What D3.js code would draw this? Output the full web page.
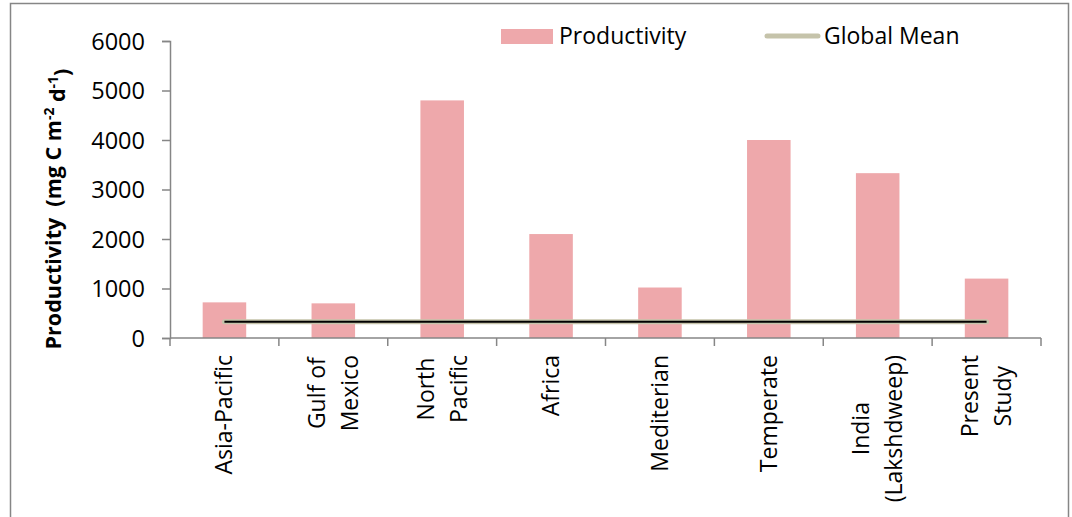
<!DOCTYPE html>
<html>
<head>
<meta charset="utf-8">
<script src="https://cdn.jsdelivr.net/npm/d3@7"></script>
<style>
  html, body { margin: 0; padding: 0; background: #fff; }
  svg { display: block; font-family: "Open Sans", sans-serif; }
</style>
</head>
<body>
<svg id="chart" width="1072" height="517"></svg>
<script>
// Regions compared (each label may wrap onto several lines)
const categories = [
  ["Asia-Pacific"],
  ["Gulf of", "Mexico"],
  ["North", "Pacific"],
  ["Africa"],
  ["Mediterian"],
  ["Temperate"],
  ["India", "(Lakshdweep)"],
  ["Present", "Study"]
];
// Productivity, mg C m-2 d-1
const productivity = [720, 700, 4800, 2100, 1020, 4000, 3330, 1200];
// Global mean productivity, same value across all regions
const globalMean = [330, 330, 330, 330, 330, 330, 330, 330];
const yTicks = [0, 1000, 2000, 3000, 4000, 5000, 6000];

const W = 1072, H = 517;
const margin = { left: 170, right: 31, top: 41, bottom: 179 };
const plotW = W - margin.left - margin.right;
const plotH = H - margin.top - margin.bottom;

const svg = d3.select("#chart");
const axisColor = "#868686";
const barColor = "#EEA8AB";
const meanColor = "#C5C3AA";
const fontSize = 23;

// outer chart border
svg.append("rect")
  .attr("x", 10.5).attr("y", 3.5)
  .attr("width", 1058).attr("height", 530)
  .attr("fill", "none").attr("stroke", axisColor).attr("stroke-width", 1.5);

const g = svg.append("g").attr("transform", `translate(${margin.left},${margin.top})`);

const idx = d3.range(categories.length);
const x = d3.scaleBand().domain(idx).range([0, plotW]).paddingInner(0.6).paddingOuter(0.3);
const xPos = d3.scaleBand().domain(idx).range([0, plotW]);
const y = d3.scaleLinear().domain([0, 6000]).range([plotH, 0]);

// bars
g.selectAll("rect.bar").data(productivity).enter().append("rect")
  .attr("class", "bar")
  .attr("x", (d, i) => x(i))
  .attr("width", x.bandwidth())
  .attr("y", d => y(d))
  .attr("height", d => y(0) - y(d))
  .attr("fill", barColor);

// y axis
const yAxis = g.append("g")
  .call(d3.axisLeft(y).tickValues(yTicks).tickSize(8).tickPadding(17).tickFormat(d3.format("d")));
yAxis.select(".domain").attr("stroke", axisColor).attr("stroke-width", 1.5);
yAxis.selectAll(".tick line").attr("stroke", axisColor).attr("stroke-width", 1.5);
yAxis.selectAll(".tick text").attr("fill", "#000").style("font-size", "23.5px")
  .style("font-family", "'Open Sans', sans-serif").attr("dy", "0.35em");

// x axis with boundary ticks between categories
const boundaries = d3.range(categories.length + 1).map(i => i * xPos.step());
const xAxisG = g.append("g").attr("transform", `translate(0,${plotH})`);
xAxisG.append("line").attr("x1", 0).attr("x2", plotW)
  .attr("stroke", axisColor).attr("stroke-width", 1.5);
xAxisG.selectAll("line.tk").data(boundaries).enter().append("line")
  .attr("class", "tk")
  .attr("x1", d => d).attr("x2", d => d).attr("y1", 0).attr("y2", 8)
  .attr("stroke", axisColor).attr("stroke-width", 1.5);

// rotated category labels, lines centred within each block
const linePitch = 33;
categories.forEach((lines, i) => {
  const cx = xPos(i) + xPos.bandwidth() / 2;
  const lg = xAxisG.append("g");
  const texts = lines.map((t, k) => lg.append("text")
    .text(t)
    .attr("text-anchor", "middle")
    .style("font-size", fontSize + "px")
    .attr("fill", "#000"));
  const widths = texts.map(t => t.node().getComputedTextLength());
  const maxW = d3.max(widths);
  const n = lines.length;
  texts.forEach((t, k) => {
    const off = (k - (n - 1) / 2) * linePitch;
    t.attr("transform", `translate(${cx + off + 8},${17 + maxW / 2}) rotate(-90)`);
  });
});

// global mean line: light casing with dark core
const meanLine = d3.line()
  .x((d, i) => xPos(i) + xPos.bandwidth() / 2)
  .y(d => y(d));
g.append("path").datum(globalMean).attr("d", meanLine)
  .attr("fill", "none").attr("stroke", meanColor).attr("stroke-width", 5).attr("stroke-linecap", "round");
g.append("path").datum(globalMean).attr("d", meanLine)
  .attr("fill", "none").attr("stroke", "#000").attr("stroke-width", 2);

// y axis title with superscripts
const title = svg.append("text")
  .attr("transform", "translate(61,209) rotate(-90)")
  .attr("text-anchor", "middle")
  .style("white-space", "pre")
  .style("font-size", "21.5px").style("font-weight", "bold").attr("fill", "#000");
title.append("tspan").text("Productivity  (mg C m");
title.append("tspan").text("-2").attr("dy", "-0.5em").style("font-size", "14px");
title.append("tspan").text(" d").attr("dy", "0.5em");
title.append("tspan").text("-1").attr("dy", "-0.5em").style("font-size", "14px");
title.append("tspan").text(")").attr("dy", "0.5em");

// legend
const leg = svg.append("g");
leg.append("rect").attr("x", 501).attr("y", 29).attr("width", 52).attr("height", 15).attr("fill", barColor);
leg.append("text").attr("x", 559).attr("y", 36).attr("dy", "0.35em")
  .style("font-size", fontSize + "px").attr("fill", "#000").text("Productivity");
leg.append("line").attr("x1", 767).attr("x2", 818).attr("y1", 36).attr("y2", 36)
  .attr("stroke", meanColor).attr("stroke-width", 5).attr("stroke-linecap", "round");
leg.append("text").attr("x", 824).attr("y", 36).attr("dy", "0.35em")
  .style("font-size", fontSize + "px").attr("fill", "#000").text("Global Mean");
</script>
</body>
</html>
